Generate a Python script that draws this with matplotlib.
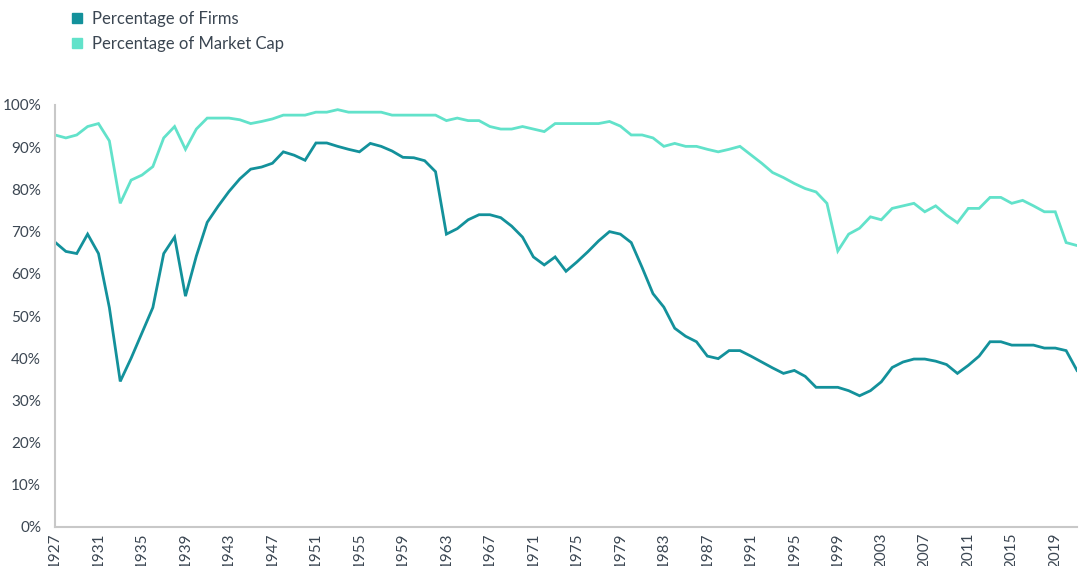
import matplotlib
matplotlib.use("Agg")
import matplotlib.pyplot as plt
from matplotlib.lines import Line2D
from matplotlib.ticker import FuncFormatter

years = list(range(1927, 2022))

pct_firms = [
    67.5, 65.3, 64.8, 69.4, 64.8, 52.0, 34.5, 40.0, 46.0, 52.0,   # 1927-1936
    64.8, 68.7, 54.7, 64.2, 72.2, 76.0, 79.5, 82.5, 84.8, 85.3,   # 1937-1946
    86.2, 88.9, 88.1, 86.9, 91.0, 91.0, 90.2, 89.5, 88.9, 90.9,   # 1947-1956
    90.2, 89.1, 87.6, 87.5, 86.8, 84.2, 69.4, 70.7, 72.8, 74.0,   # 1957-1966
    74.0, 73.3, 71.3, 68.7, 64.0, 62.1, 64.0, 60.6, 62.8, 65.2,   # 1967-1976
    67.8, 70.0, 69.4, 67.4, 61.5, 55.3, 52.1, 47.1, 45.2, 43.9,   # 1977-1986
    40.5, 39.9, 41.8, 41.8, 40.5, 39.1, 37.7, 36.4, 37.1, 35.7,   # 1987-1996
    33.1, 33.1, 33.1, 32.3, 31.1, 32.3, 34.4, 37.8, 39.1, 39.8,   # 1997-2006
    39.8, 39.3, 38.5, 36.4, 38.3, 40.5, 43.9, 43.9, 43.1, 43.1,   # 2007-2016
    43.1, 42.4, 42.4, 41.8, 37.1,                                 # 2017-2021
]

pct_market_cap = [
    92.9, 92.2, 92.9, 94.9, 95.6, 91.5, 76.7, 82.2, 83.4, 85.4,   # 1927-1936
    92.2, 94.9, 89.5, 94.3, 96.9, 96.9, 96.9, 96.5, 95.6, 96.1,   # 1937-1946
    96.7, 97.6, 97.6, 97.6, 98.3, 98.3, 98.9, 98.3, 98.3, 98.3,   # 1947-1956
    98.3, 97.6, 97.6, 97.6, 97.6, 97.6, 96.3, 96.9, 96.3, 96.3,   # 1957-1966
    94.9, 94.3, 94.3, 94.9, 94.3, 93.7, 95.6, 95.6, 95.6, 95.6,   # 1967-1976
    95.6, 96.1, 95.0, 92.9, 92.9, 92.2, 90.2, 90.9, 90.2, 90.2,   # 1977-1986
    89.5, 88.9, 89.5, 90.2, 88.2, 86.2, 84.0, 82.8, 81.4, 80.2,   # 1987-1996
    79.4, 76.7, 65.4, 69.4, 70.8, 73.5, 72.8, 75.5, 76.1, 76.7,   # 1997-2006
    74.7, 76.1, 73.9, 72.1, 75.5, 75.5, 78.1, 78.1, 76.7, 77.4,   # 2007-2016
    76.1, 74.7, 74.7, 67.4, 66.7,                                 # 2017-2021
]

tick_years = list(range(1927, 2022, 4))
y_ticks = list(range(0, 101, 10))

series_names = ["Percentage of Firms", "Percentage of Market Cap"]
c_firms = "#13919B"
c_cap = "#62E2CA"
text_color = "#3B4652"
axis_color = "#C8C8C8"

plt.rcParams["font.family"] = ["Lato", "DejaVu Sans"]

fig = plt.figure(figsize=(10.8, 5.66), dpi=100)
ax = fig.add_axes([55 / 1080, 39 / 566, 1022 / 1080, 422 / 566])

ax.plot(years, pct_market_cap, color=c_cap, lw=2.0, solid_joinstyle="miter")
ax.plot(years, pct_firms, color=c_firms, lw=2.0, solid_joinstyle="miter")

ax.set_xlim(1927, 2021)
ax.set_ylim(0, 100)
ax.set_yticks(y_ticks)
ax.yaxis.set_major_formatter(FuncFormatter(lambda v, p: f"{int(v)}%"))
ax.set_xticks(tick_years)
ax.set_xticklabels([str(y) for y in tick_years], rotation=90)

for s in ["top", "right"]:
    ax.spines[s].set_visible(False)
for s in ["left", "bottom"]:
    ax.spines[s].set_color(axis_color)
    ax.spines[s].set_linewidth(1.5)

ax.tick_params(axis="y", length=0, labelsize=11, labelcolor=text_color, pad=10)
ax.tick_params(axis="x", length=0, labelsize=11, labelcolor=text_color, pad=4)

handles = [
    Line2D([], [], marker="s", linestyle="none", markersize=6.5,
           markerfacecolor=c_firms, markeredgecolor=c_firms),
    Line2D([], [], marker="s", linestyle="none", markersize=6.5,
           markerfacecolor=c_cap, markeredgecolor=c_cap),
]
leg = fig.legend(handles, series_names, loc="upper left",
                 bbox_to_anchor=(58 / 1080, 1.0), frameon=False,
                 fontsize=12, handletextpad=0.4, labelspacing=0.55,
                 handlelength=1.0, borderaxespad=0.25)
for t in leg.get_texts():
    t.set_color(text_color)

fig.savefig("out.png", dpi=100)
